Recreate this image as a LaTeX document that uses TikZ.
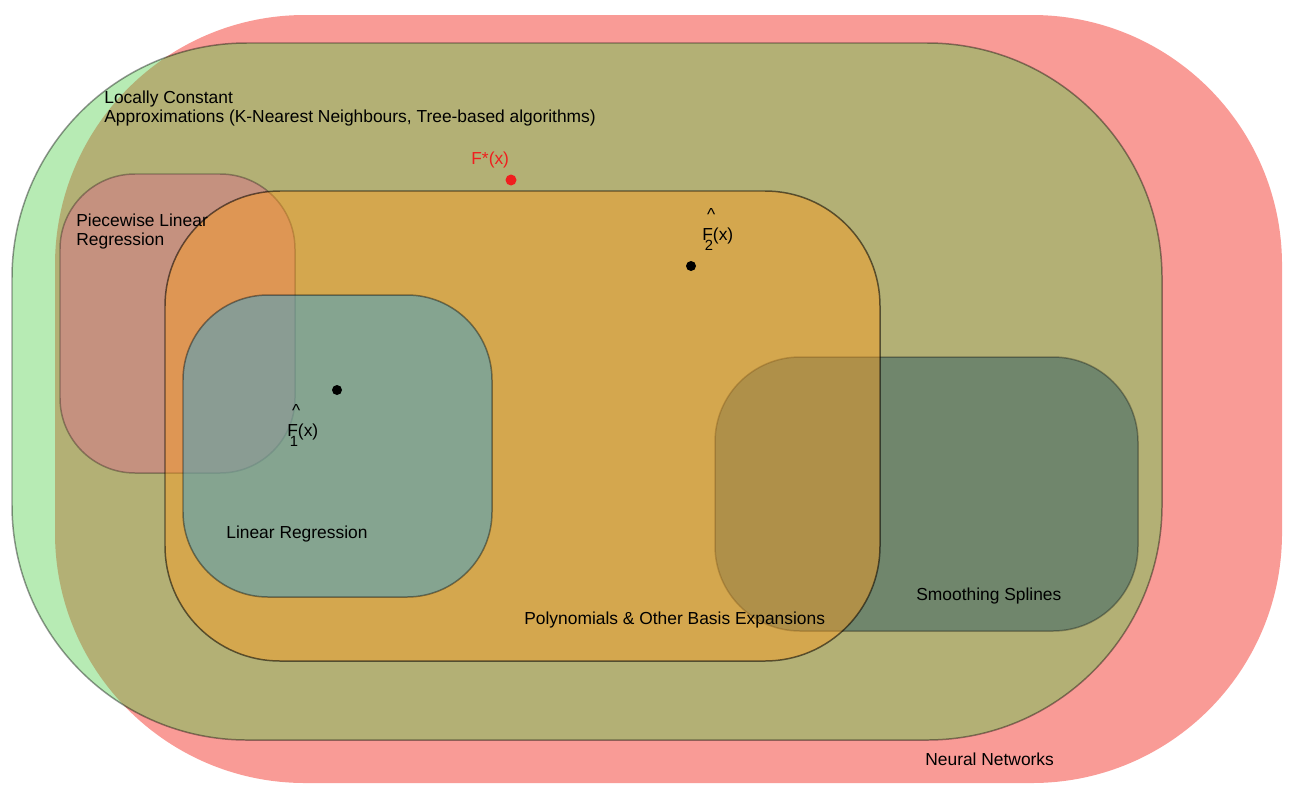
\documentclass[tikz,border=0pt]{standalone}
\usepackage{fontspec}
\setmainfont{Liberation Sans}

\definecolor{nnred}{RGB}{249,155,150}
\definecolor{lcgreen}{RGB}{79,206,72}
\definecolor{pwpink}{RGB}{216,116,137}
\definecolor{ssteal}{RGB}{46,94,101}
\definecolor{pborange}{RGB}{253,158,32}
\definecolor{lrblue}{RGB}{55,162,210}
\definecolor{starred}{RGB}{240,30,30}

% F with a hat above and an index below
\newcommand{\fhat}[1]{\makebox[0pt][l]{\hspace{0.28em}\raisebox{1.15em}{\^{}}}F\makebox[0pt][r]{\raisebox{-0.62em}{\fontsize{8.4}{8.4}\selectfont #1}\hspace{0.0em}}(x)}

\tikzset{
  region/.style={line width=0.85pt},
  lbl/.style={font=\fontsize{9.9}{10.8}\selectfont, inner sep=0pt, anchor=base west, align=left},
  estdot/.style={circle, fill=black, inner sep=0pt, minimum size=0.2cm}
}

\begin{document}
\begin{tikzpicture}[x=0.02cm,y=-0.02cm]
\useasboundingbox (0,0) rectangle (1297,801);

% regions, back to front
\path[region, fill=nnred, rounded corners=5cm] (55,15) rectangle (1282,783);
\path[region, fill=lcgreen, fill opacity=0.41, draw=black, draw opacity=0.4, rounded corners=4.7cm] (12,43) rectangle (1162,740);
\path[region, fill=pwpink, fill opacity=0.5, draw=black, draw opacity=0.3, rounded corners=1.5cm] (60,174) rectangle (295,473);
\path[region, fill=ssteal, fill opacity=0.5, draw=black, draw opacity=0.3, rounded corners=1.7cm] (715,357) rectangle (1138,631);
\path[region, fill=pborange, fill opacity=0.45, draw=black, draw opacity=0.55, rounded corners=2.3cm] (165,191) rectangle (880,661);
\path[region, fill=lrblue, fill opacity=0.5, draw=black, draw opacity=0.4, rounded corners=1.7cm] (183,295) rectangle (492,597);

% labels (base = last line)
\node[lbl] (lc) at (104,122) {Locally Constant\\Approximations (K-Nearest Neighbours, Tree-based algorithms)};
\node[lbl] (pw) at (76,245) {Piecewise Linear\\Regression};
\node[lbl] (lr) at (226,538) {Linear Regression};
\node[lbl] (pb) at (524,624) {Polynomials \& Other Basis Expansions};
\node[lbl] (ss) at (916,600) {Smoothing Splines};
\node[lbl] (nn) at (925,765) {Neural Networks};

% target and estimates
\node[circle, fill=starred, inner sep=0pt, minimum size=0.22cm] (fstar) at (511,180) {};
\node[lbl, text=starred] (fstarlbl) at (471,164) {F*(x)};
\node[estdot] (f2) at (691,266) {};
\node[lbl] (f2lbl) at (702,240) {\fhat{2}};
\node[estdot] (f1) at (337,390) {};
\node[lbl] (f1lbl) at (287,436) {\fhat{1}};
\end{tikzpicture}
\end{document}
